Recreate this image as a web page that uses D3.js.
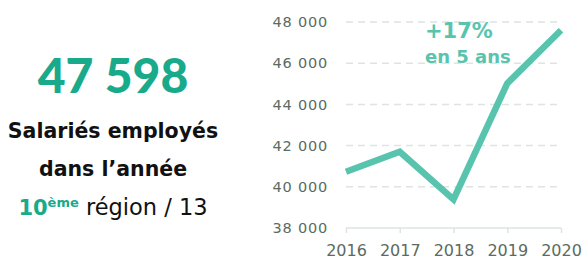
<!DOCTYPE html>
<html><head><meta charset="utf-8">
<script src="https://cdn.jsdelivr.net/npm/d3@7"></script>
<style>body{margin:0;background:#fff;} svg{display:block;}</style>
</head><body>
<svg id="c" width="586" height="263"></svg>
<script>
const years = ["2016","2017","2018","2019","2020"];
const salaries = [40730, 41700, 39390, 45020, 47598];
const yTicks = [38000, 40000, 42000, 44000, 46000, 48000];
const headline = "47 598";
const labelLines = ["Salariés employés", "dans l’année"];
const rankNum = "10", rankSup = "ème", rankRest = " région / 13";
const growth = "+17%", growthSub = "en 5 ans";

const svg = d3.select("#c");
const FONT = "'DejaVu Sans', sans-serif";
const BIG = "Lato, 'Open Sans', sans-serif";
const lineColor = "#58c4ae", darkTeal = "#19aa8b", axisText = "#5b6b62";

const x = d3.scalePoint().domain(years).range([346, 561]);
const y = d3.scaleLinear().domain([38000, 48000]).range([228, 22]);

// gridlines
svg.append("g").selectAll("line").data(yTicks.filter(d => d > 38000)).join("line")
  .attr("x1", 346).attr("x2", 561).attr("y1", d => y(d)).attr("y2", d => y(d))
  .attr("stroke", "#dde4e1").attr("stroke-width", 1.5).attr("stroke-dasharray", "7,5");

// y axis labels
const yAxis = d3.axisLeft(y).tickValues(yTicks).tickSize(0).tickPadding(0)
  .tickFormat(d => d3.format(",")(d).replace(",", " "));
const gy = svg.append("g").attr("transform", "translate(328,0)").call(yAxis);
gy.select(".domain").remove();
gy.selectAll("text").attr("fill", axisText).attr("font-family", FONT).attr("font-size", 14.5)
  .style("letter-spacing", "0.8px");

// x axis
const xAxis = d3.axisBottom(x).tickSize(5).tickPadding(12);
const gx = svg.append("g").attr("transform", "translate(0,228)").call(xAxis);
gx.select(".domain").attr("stroke", "#dde4e1").attr("stroke-width", 1.5).attr("d", "M346,0H561");
gx.selectAll(".tick line").attr("stroke", "#dde4e1").attr("stroke-width", 1.5);
gx.selectAll("text").attr("fill", axisText).attr("font-family", FONT).attr("font-size", 16);

// line
svg.append("path").datum(salaries)
  .attr("fill", "none").attr("stroke", lineColor).attr("stroke-width", 6.5)
  .attr("stroke-linejoin", "miter")
  .attr("d", d3.line().x((d, i) => x(years[i])).y(d => y(d)));

// annotation
svg.append("text").attr("x", 425).attr("y", 38).attr("fill", lineColor)
  .attr("font-family", FONT).attr("font-weight", "bold").attr("font-size", 21).text(growth);
svg.append("text").attr("x", 425).attr("y", 63).attr("fill", lineColor)
  .attr("font-family", FONT).attr("font-weight", "bold").attr("font-size", 18).text(growthSub);

// left panel
svg.append("text").attr("x", 113).attr("y", 93).attr("text-anchor", "middle")
  .attr("fill", darkTeal).attr("font-family", BIG).attr("font-weight", "900")
  .attr("font-size", 48).text(headline);
labelLines.forEach((t, i) => {
  svg.append("text").attr("x", 113).attr("y", 138 + i * 38).attr("text-anchor", "middle")
    .attr("fill", "#111").attr("font-family", FONT).attr("font-weight", "bold")
    .attr("font-size", 20.5).text(t);
});
const r = svg.append("text").attr("x", 113).attr("y", 215).attr("text-anchor", "middle")
  .attr("font-family", FONT).attr("font-size", 22.5);
r.append("tspan").attr("fill", darkTeal).attr("font-weight", "bold").attr("font-size", 21).text(rankNum);
r.append("tspan").attr("fill", darkTeal).attr("font-weight", "bold").attr("font-size", 13)
  .attr("dy", -8).text(rankSup);
r.append("tspan").attr("fill", "#111").attr("dy", 8).text(rankRest);
</script>
</body></html>
